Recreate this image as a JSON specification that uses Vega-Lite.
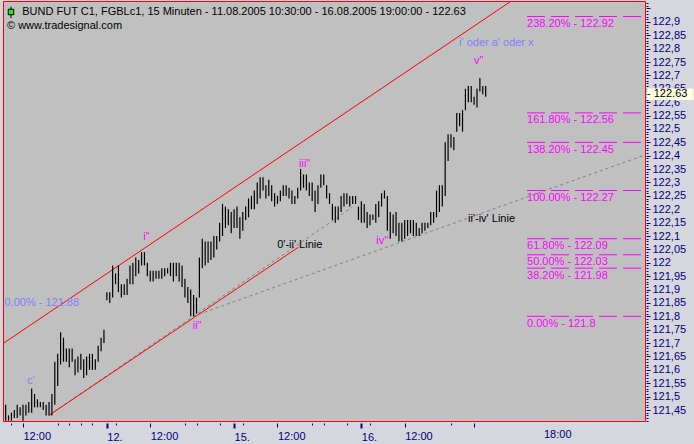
{
  "$schema": "https://vega.github.io/schema/vega-lite/v6.json",
  "width": 642,
  "height": 420,
  "autosize": {"type": "none"},
  "padding": {"left": 3, "top": 1, "right": 49, "bottom": 23},
  "background": "#d6d6de",
  "config": {
    "font": "Liberation Sans",
    "view": {"fill": "#c0c0c0", "stroke": "#ff0000", "strokeWidth": 1},
    "text": {"font": "Liberation Sans", "fontSize": 11}
  },
  "title": {
    "text": "\u200b\u00a0\u00a0\u00a0\u00a0\u00a0BUND FUT C1, FGBLc1, 15 Minuten - 11.08.2005 10:30:00 - 16.08.2005 19:00:00 - 122.63",
    "subtitle": "\u00a9 www.tradesignal.com",
    "anchor": "start",
    "frame": "group",
    "orient": "top",
    "offset": -34,
    "dx": 4,
    "font": "Liberation Sans",
    "fontSize": 11,
    "fontWeight": "normal",
    "color": "#000000",
    "subtitleFont": "Liberation Sans",
    "subtitleFontSize": 11,
    "subtitleColor": "#000000",
    "subtitlePadding": 3
  },
  "datasets": {
    "bars": [
      {"i":0,"high":121.47,"low":121.41},{"i":1,"high":121.43,"low":121.41},{"i":2,"high":121.44,"low":121.41},{"i":3,"high":121.45,"low":121.42},{"i":4,"high":121.47,"low":121.42},
      {"i":5,"high":121.46,"low":121.43},{"i":6,"high":121.47,"low":121.41},{"i":7,"high":121.47,"low":121.43},{"i":8,"high":121.48,"low":121.44},{"i":9,"high":121.53,"low":121.44},
      {"i":10,"high":121.51,"low":121.46},{"i":11,"high":121.49,"low":121.46},{"i":12,"high":121.48,"low":121.46},{"i":13,"high":121.48,"low":121.45},{"i":14,"high":121.47,"low":121.43},
      {"i":15,"high":121.48,"low":121.43},{"i":16,"high":121.51,"low":121.43},{"i":17,"high":121.63,"low":121.47},{"i":18,"high":121.66,"low":121.54},{"i":19,"high":121.74,"low":121.62},
      {"i":20,"high":121.72,"low":121.63},{"i":21,"high":121.68,"low":121.63},{"i":22,"high":121.68,"low":121.61},{"i":23,"high":121.68,"low":121.63},{"i":24,"high":121.64,"low":121.58},
      {"i":25,"high":121.65,"low":121.59},{"i":26,"high":121.66,"low":121.60},{"i":27,"high":121.64,"low":121.57},{"i":28,"high":121.65,"low":121.58},{"i":29,"high":121.66,"low":121.60},
      {"i":30,"high":121.66,"low":121.60},{"i":31,"high":121.64,"low":121.60},{"i":32,"high":121.69,"low":121.63},{"i":33,"high":121.72,"low":121.67},{"i":34,"high":121.75,"low":121.70},
      {"i":35,"high":121.89,"low":121.86},{"i":36,"high":121.89,"low":121.85},{"i":37,"high":121.99,"low":121.87},{"i":38,"high":121.96,"low":121.92},{"i":39,"high":121.99,"low":121.89},
      {"i":40,"high":121.92,"low":121.87},{"i":41,"high":121.92,"low":121.88},{"i":42,"high":121.94,"low":121.88},{"i":43,"high":121.99,"low":121.92},{"i":44,"high":122.00,"low":121.92},
      {"i":45,"high":122.02,"low":121.95},{"i":46,"high":122.01,"low":121.96},{"i":47,"high":122.04,"low":121.99},{"i":48,"high":122.04,"low":121.99},{"i":49,"high":122.00,"low":121.95},
      {"i":50,"high":121.97,"low":121.93},{"i":51,"high":121.97,"low":121.93},{"i":52,"high":121.97,"low":121.94},{"i":53,"high":121.97,"low":121.94},{"i":54,"high":121.98,"low":121.94},
      {"i":55,"high":121.98,"low":121.95},{"i":56,"high":121.98,"low":121.96},{"i":57,"high":122.00,"low":121.95},{"i":58,"high":122.00,"low":121.93},{"i":59,"high":122.00,"low":121.95},
      {"i":60,"high":122.00,"low":121.93},{"i":61,"high":121.99,"low":121.91},{"i":62,"high":121.94,"low":121.87},{"i":63,"high":121.91,"low":121.85},{"i":64,"high":121.90,"low":121.80},
      {"i":65,"high":121.88,"low":121.80},{"i":66,"high":121.87,"low":121.81},{"i":67,"high":122.02,"low":121.87},{"i":68,"high":122.09,"low":121.98},{"i":69,"high":122.08,"low":121.99},
      {"i":70,"high":122.08,"low":122.00},{"i":71,"high":122.08,"low":122.01},{"i":72,"high":122.10,"low":122.02},{"i":73,"high":122.10,"low":122.05},{"i":74,"high":122.15,"low":122.08},
      {"i":75,"high":122.22,"low":122.10},{"i":76,"high":122.21,"low":122.13},{"i":77,"high":122.20,"low":122.14},{"i":78,"high":122.19,"low":122.11},{"i":79,"high":122.20,"low":122.13},
      {"i":80,"high":122.21,"low":122.13},{"i":81,"high":122.17,"low":122.09},{"i":82,"high":122.19,"low":122.12},{"i":83,"high":122.21,"low":122.16},{"i":84,"high":122.24,"low":122.17},
      {"i":85,"high":122.25,"low":122.20},{"i":86,"high":122.27,"low":122.20},{"i":87,"high":122.30,"low":122.22},{"i":88,"high":122.32,"low":122.24},{"i":89,"high":122.32,"low":122.27},
      {"i":90,"high":122.29,"low":122.24},{"i":91,"high":122.31,"low":122.25},{"i":92,"high":122.29,"low":122.23},{"i":93,"high":122.26,"low":122.21},{"i":94,"high":122.25,"low":122.22},
      {"i":95,"high":122.27,"low":122.23},{"i":96,"high":122.29,"low":122.25},{"i":97,"high":122.29,"low":122.25},{"i":98,"high":122.28,"low":122.24},{"i":99,"high":122.27,"low":122.22},
      {"i":100,"high":122.25,"low":122.22},{"i":101,"high":122.28,"low":122.24},{"i":102,"high":122.35,"low":122.27},{"i":103,"high":122.33,"low":122.28},{"i":104,"high":122.33,"low":122.27},
      {"i":105,"high":122.30,"low":122.25},{"i":106,"high":122.30,"low":122.23},{"i":107,"high":122.27,"low":122.19},{"i":108,"high":122.29,"low":122.22},{"i":109,"high":122.33,"low":122.28},
      {"i":110,"high":122.33,"low":122.29},{"i":111,"high":122.29,"low":122.24},{"i":112,"high":122.26,"low":122.22},{"i":113,"high":122.22,"low":122.16},{"i":114,"high":122.21,"low":122.15},
      {"i":115,"high":122.21,"low":122.16},{"i":116,"high":122.25,"low":122.19},{"i":117,"high":122.26,"low":122.21},{"i":118,"high":122.26,"low":122.22},{"i":119,"high":122.25,"low":122.21},
      {"i":120,"high":122.25,"low":122.22},{"i":121,"high":122.25,"low":122.22},{"i":122,"high":122.21,"low":122.16},{"i":123,"high":122.23,"low":122.15},{"i":124,"high":122.22,"low":122.15},
      {"i":125,"high":122.19,"low":122.13},{"i":126,"high":122.18,"low":122.14},{"i":127,"high":122.18,"low":122.16},{"i":128,"high":122.22,"low":122.15},{"i":129,"high":122.23,"low":122.17},
      {"i":130,"high":122.26,"low":122.21},{"i":131,"high":122.27,"low":122.24},{"i":132,"high":122.25,"low":122.12},{"i":133,"high":122.19,"low":122.09},{"i":134,"high":122.18,"low":122.11},
      {"i":135,"high":122.19,"low":122.10},{"i":136,"high":122.15,"low":122.08},{"i":137,"high":122.15,"low":122.08},{"i":138,"high":122.16,"low":122.09},{"i":139,"high":122.16,"low":122.10},
      {"i":140,"high":122.16,"low":122.11},{"i":141,"high":122.16,"low":122.10},{"i":142,"high":122.15,"low":122.10},{"i":143,"high":122.13,"low":122.10},{"i":144,"high":122.15,"low":122.11},
      {"i":145,"high":122.15,"low":122.12},{"i":146,"high":122.15,"low":122.13},{"i":147,"high":122.19,"low":122.14},{"i":148,"high":122.19,"low":122.15},{"i":149,"high":122.27,"low":122.17},
      {"i":150,"high":122.29,"low":122.19},{"i":151,"high":122.29,"low":122.21},{"i":152,"high":122.45,"low":122.25},{"i":153,"high":122.48,"low":122.38},{"i":154,"high":122.48,"low":122.43},
      {"i":155,"high":122.47,"low":122.42},{"i":156,"high":122.56,"low":122.49},{"i":157,"high":122.56,"low":122.51},{"i":158,"high":122.57,"low":122.49},{"i":159,"high":122.65,"low":122.57},
      {"i":160,"high":122.66,"low":122.60},{"i":161,"high":122.66,"low":122.60},{"i":162,"high":122.62,"low":122.59},{"i":163,"high":122.65,"low":122.58},{"i":164,"high":122.69,"low":122.64},
      {"i":165,"high":122.66,"low":122.63},{"i":166,"high":122.66,"low":122.62}
    ],
    "channel": [
      {"name":"upper","i":-1.3,"p":121.6955},{"name":"upper","i":175,"p":122.979},
      {"name":"lower","i":15.1,"p":121.431},{"name":"lower","i":101.2,"p":122.058}
    ],
    "guides": [
      {"name":"0'-ii'","i":15.1,"p":121.431},{"name":"0'-ii'","i":119.8,"p":122.207},
      {"name":"ii'-iv'","i":64.8,"p":121.80},{"name":"ii'-iv'","i":221.1,"p":122.403}
    ],
    "fib": [
      {"label":"238.20% - 122.92","price":122.92},
      {"label":"161.80% - 122.56","price":122.56},
      {"label":"138.20% - 122.45","price":122.45},
      {"label":"100.00% - 122.27","price":122.27},
      {"label":"61.80% - 122.09","price":122.09},
      {"label":"50.00% - 122.03","price":122.03},
      {"label":"38.20% - 121.98","price":121.98},
      {"label":"0.00% - 121.8","price":121.8}
    ],
    "waves": [
      {"text":"c'","i":8.8,"p":121.558,"degree":"minor"},
      {"text":"i\"","i":48.7,"p":122.097,"degree":"minute"},
      {"text":"ii\"","i":66.2,"p":121.764,"degree":"minute"},
      {"text":"iii\"","i":103.4,"p":122.369,"degree":"minute"},
      {"text":"iv\"","i":130.2,"p":122.083,"degree":"minute"},
      {"text":"v\"","i":163.6,"p":122.754,"degree":"minute"}
    ],
    "notes": [
      {"text":"i' oder a' oder x","i":156.8,"p":122.822,"degree":"minor"},
      {"text":"0.00% - 121.88","i":-0.4,"p":121.85,"degree":"minor"},
      {"text":"0'-ii' Linie","i":93.9,"p":122.067,"degree":"line"},
      {"text":"ii'-iv' Linie","i":159.9,"p":122.164,"degree":"line"}
    ],
    "last": [{"close":122.63}],
    "icon": [{"i":1.85,"top":122.957,"bottom":122.914,"mid":122.937}]
  },
  "layer": [
    {
      "data": {"name": "guides"},
      "mark": {"type": "line", "stroke": "#808080", "strokeWidth": 1, "strokeDash": [3, 3], "clip": true},
      "encoding": {
        "x": {"field": "i", "type": "quantitative"},
        "y": {"field": "p", "type": "quantitative"},
        "detail": {"field": "name"}
      }
    },
    {
      "data": {"name": "channel"},
      "mark": {"type": "line", "stroke": "#ff0000", "strokeWidth": 1, "clip": true},
      "encoding": {
        "x": {"field": "i", "type": "quantitative"},
        "y": {"field": "p", "type": "quantitative"},
        "detail": {"field": "name"}
      }
    },
    {
      "data": {"name": "fib"},
      "mark": {"type": "rule", "stroke": "#ff00ff", "strokeWidth": 1, "strokeDash": [18, 6]},
      "encoding": {
        "x": {"datum": 180.3, "type": "quantitative"},
        "x2": {"datum": 221.1},
        "y": {"field": "price", "type": "quantitative"}
      }
    },
    {
      "data": {"name": "fib"},
      "mark": {"type": "text", "align": "left", "baseline": "top", "dy": 1.5, "fontSize": 11, "color": "#ff00ff"},
      "encoding": {
        "x": {"datum": 180.3, "type": "quantitative"},
        "y": {"field": "price", "type": "quantitative"},
        "text": {"field": "label"}
      }
    },
    {
      "data": {"name": "bars"},
      "mark": {"type": "rule", "stroke": "#000000", "strokeWidth": 1.2},
      "encoding": {
        "x": {
          "field": "i", "type": "quantitative",
          "scale": {"domain": [-0.917, 221.1], "nice": false, "zero": false},
          "axis": {
            "title": null, "orient": "bottom", "offset": 2, "domain": false, "grid": false,
            "tickCount": 500,
            "values": [2, 6, 18, 22, 26, 30, 35, 38, 50, 62, 66, 74, 79, 82, 94, 106, 110, 118, 123, 126, 138, 154, 162, 186],
            "labelExpr": "indexof([6,50,94,138], datum.value) >= 0 ? '12:00' : datum.value == 35 ? '12.' : datum.value == 79 ? '15.' : datum.value == 123 ? '16.' : datum.value == 186 ? '18:00' : ''",
            "labelAlign": "left", "labelFont": "Liberation Sans", "labelFontSize": 11, "labelColor": "#000080",
            "labelPadding": 3, "labelOverlap": false, "labelFlush": false,
            "tickColor": "#000080",
            "tickSize": {"condition": [{"test": "indexof([35,79,123], datum.value) >= 0", "value": 5}, {"test": "indexof([6,50,94,138,162], datum.value) >= 0", "value": 4}], "value": 2},
            "tickWidth": {"condition": {"test": "indexof([35,79,123], datum.value) >= 0", "value": 2}, "value": 1},
            "tickOpacity": {"condition": {"test": "datum.value == 186", "value": 0}, "value": 1}
          }
        },
        "y": {
          "field": "low", "type": "quantitative",
          "scale": {"domain": [121.409, 122.978], "nice": false, "zero": false},
          "axis": {
            "title": null, "orient": "right", "offset": 1, "domain": false, "grid": false,
            "tickCount": 1000,
            "values": [121.41,121.42,121.43,121.44,121.45,121.46,121.47,121.48,121.49,121.5,121.51,121.52,121.53,121.54,121.55,121.56,121.57,121.58,121.59,121.6,121.61,121.62,121.63,121.64,121.65,121.66,121.67,121.68,121.69,121.7,121.71,121.72,121.73,121.74,121.75,121.76,121.77,121.78,121.79,121.8,121.81,121.82,121.83,121.84,121.85,121.86,121.87,121.88,121.89,121.9,121.91,121.92,121.93,121.94,121.95,121.96,121.97,121.98,121.99,122,122.01,122.02,122.03,122.04,122.05,122.06,122.07,122.08,122.09,122.1,122.11,122.12,122.13,122.14,122.15,122.16,122.17,122.18,122.19,122.2,122.21,122.22,122.23,122.24,122.25,122.26,122.27,122.28,122.29,122.3,122.31,122.32,122.33,122.34,122.35,122.36,122.37,122.38,122.39,122.4,122.41,122.42,122.43,122.44,122.45,122.46,122.47,122.48,122.49,122.5,122.51,122.52,122.53,122.54,122.55,122.56,122.57,122.58,122.59,122.6,122.61,122.62,122.63,122.64,122.65,122.66,122.67,122.68,122.69,122.7,122.71,122.72,122.73,122.74,122.75,122.76,122.77,122.78,122.79,122.8,122.81,122.82,122.83,122.84,122.85,122.86,122.87,122.88,122.89,122.9,122.91,122.92,122.93,122.94,122.95,122.96,122.97],
            "labelExpr": "(round(datum.value*100) % 5 == 0 && datum.value < 122.93) ? replace(format(datum.value, '.2~f'), '.', ',') : ''",
            "labelAlign": "left", "labelFont": "Liberation Sans", "labelFontSize": 11, "labelColor": "#000080",
            "labelPadding": 2, "labelOverlap": false, "labelFlush": false,
            "tickColor": "#000080",
            "tickSize": {"condition": {"test": "round(datum.value*100) % 5 == 0", "value": 4}, "value": 2}
          }
        },
        "y2": {"field": "high"}
      }
    },
    {
      "data": {"name": "waves"},
      "mark": {"type": "text", "align": "center", "baseline": "middle", "fontSize": 11},
      "encoding": {
        "x": {"field": "i", "type": "quantitative"},
        "y": {"field": "p", "type": "quantitative"},
        "text": {"field": "text"},
        "color": {"field": "degree", "type": "nominal", "scale": {"domain": ["minute", "minor", "line"], "range": ["#ff00ff", "#8080ff", "#000000"]}, "legend": null}
      }
    },
    {
      "data": {"name": "notes"},
      "mark": {"type": "text", "align": "left", "baseline": "middle", "fontSize": 11},
      "encoding": {
        "x": {"field": "i", "type": "quantitative"},
        "y": {"field": "p", "type": "quantitative"},
        "text": {"field": "text"},
        "color": {"field": "degree", "type": "nominal", "scale": {"domain": ["minute", "minor", "line"], "range": ["#ff00ff", "#8080ff", "#000000"]}, "legend": null}
      }
    },
    {
      "data": {"name": "icon"},
      "mark": {"type": "rule", "stroke": "#000000", "strokeWidth": 1},
      "encoding": {
        "x": {"field": "i", "type": "quantitative"},
        "y": {"field": "bottom", "type": "quantitative"},
        "y2": {"field": "top"}
      }
    },
    {
      "data": {"name": "icon"},
      "mark": {"type": "point", "shape": "square", "size": 30, "filled": true, "fill": "#00ff00", "stroke": "#000000", "strokeWidth": 1, "opacity": 1},
      "encoding": {
        "x": {"field": "i", "type": "quantitative"},
        "y": {"field": "mid", "type": "quantitative"}
      }
    },
    {
      "data": {"name": "last"},
      "mark": {"type": "text", "align": "left", "baseline": "middle", "dx": 2, "font": "Liberation Sans", "fontSize": 9.4, "color": "#ffffe1"},
      "encoding": {
        "x": {"value": "width"},
        "y": {"field": "close", "type": "quantitative"},
        "text": {"value": "\u2588\u2588\u2588\u2588\u2588\u2588\u2588"}
      }
    },
    {
      "data": {"name": "last"},
      "mark": {"type": "text", "align": "left", "baseline": "middle", "dx": 2, "fontSize": 11, "color": "#000000"},
      "encoding": {
        "x": {"value": "width"},
        "y": {"field": "close", "type": "quantitative"},
        "text": {"value": "- 122.63"}
      }
    }
  ]
}
